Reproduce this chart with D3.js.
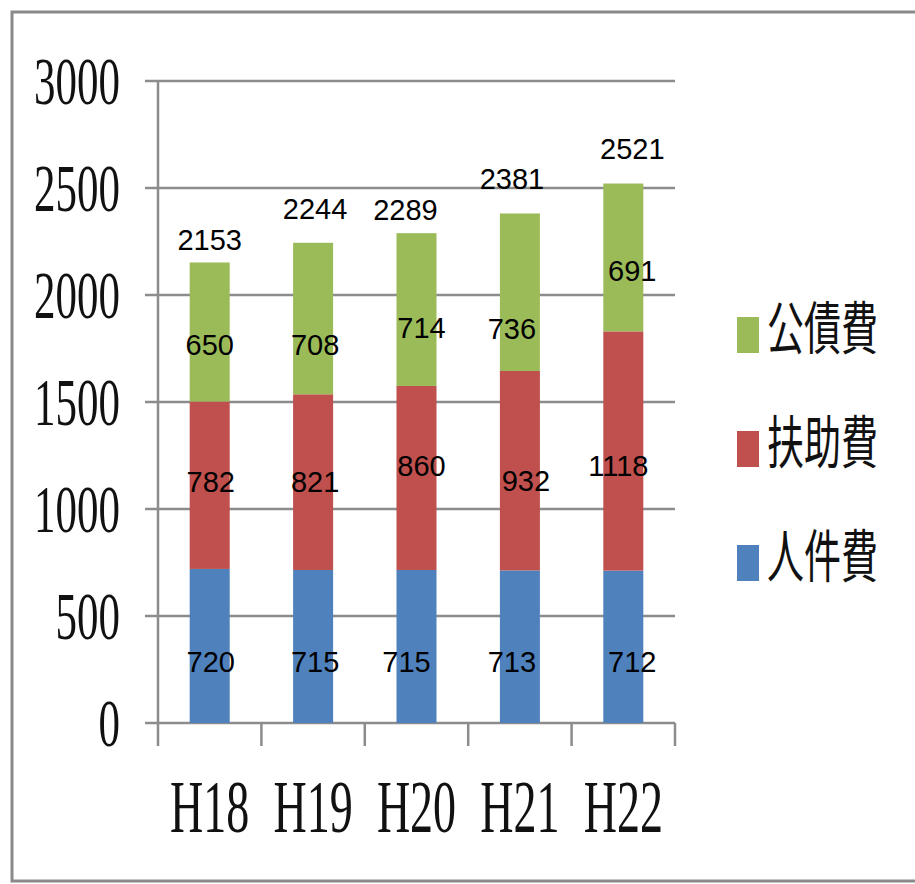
<!DOCTYPE html>
<html>
<head>
<meta charset="utf-8">
<script src="https://cdn.jsdelivr.net/npm/d3@7"></script>
<style>
  html, body { margin: 0; padding: 0; background: #fff; }
  svg { display: block; }
</style>
</head>
<body>
<svg id="chart" width="915" height="884"></svg>
<script>
// Fiscal years and expenditure series (stacked bottom to top)
const years = ["H18", "H19", "H20", "H21", "H22"];
const personnel = [720, 715, 715, 713, 712];      // 人件費
const assistance = [782, 821, 860, 932, 1118];    // 扶助費
const debtService = [650, 708, 714, 736, 691];    // 公債費
const totals = [2153, 2244, 2289, 2381, 2521];
const yTicks = [0, 500, 1000, 1500, 2000, 2500, 3000];

const seriesNames = ["人件費", "扶助費", "公債費"];
const seriesColors = ["#4f81bd", "#c0504d", "#9bbb59"];

// Hand-placed nudges for the value labels (pixels)
const totalNudge = { dx: [0, 2, -11, -8, 9], dy: [-23, -34, -24, -35, -35] };
const segNudge = [
  { dx: [1, 2, -10, -8, 9], dy: [16, 15, 15, 15, 15] },
  { dx: [1, 2, 5, 6, -5], dy: [-4, -1, -12, 10, 15] },
  { dx: [0, 2, 5, -8, 9], dy: [13, 26, 18, 36, 13] }
];

const svg = d3.select("#chart");
const plot = { left: 158, right: 675, top: 81, bottom: 723 };

const x = d3.scaleBand().domain(years)
  .range([plot.left, plot.right])
  .paddingInner(0.613).paddingOuter(0.3065);
const y = d3.scaleLinear().domain([0, 3000]).range([plot.bottom, plot.top]);

const rows = years.map((yr, i) => ({
  year: yr, "人件費": personnel[i], "扶助費": assistance[i], "公債費": debtService[i]
}));
const stacked = d3.stack().keys(seriesNames)(rows);

// Outer frame
svg.append("rect")
  .attr("x", 12).attr("y", 12).attr("width", 1000).attr("height", 869)
  .attr("fill", "none").attr("stroke", "#8a8a8a").attr("stroke-width", 3);

const gridColor = "#8c8c8c";

// Horizontal gridlines with outward tick stubs
svg.append("g").selectAll("line").data(yTicks).join("line")
  .attr("x1", plot.left - 13).attr("x2", plot.right)
  .attr("y1", d => y(d)).attr("y2", d => y(d))
  .attr("stroke", gridColor).attr("stroke-width", 2.5);

// Vertical axis line
svg.append("line")
  .attr("x1", plot.left).attr("x2", plot.left)
  .attr("y1", y(3000)).attr("y2", plot.bottom + 23)
  .attr("stroke", gridColor).attr("stroke-width", 2.5);

// Category boundary ticks below the baseline
const step = x.step();
svg.append("g").selectAll("line").data(d3.range(1, years.length + 1)).join("line")
  .attr("x1", i => plot.left + i * step).attr("x2", i => plot.left + i * step)
  .attr("y1", plot.bottom).attr("y2", plot.bottom + 23)
  .attr("stroke", gridColor).attr("stroke-width", 2.5);

// Stacked bars
svg.append("g").selectAll("g").data(stacked).join("g")
  .attr("fill", (d, i) => seriesColors[i])
  .selectAll("rect").data(d => d).join("rect")
  .attr("x", d => x(d.data.year))
  .attr("width", x.bandwidth())
  .attr("y", d => y(d[1]))
  .attr("height", d => y(d[0]) - y(d[1]));

// Y axis labels (tall serif)
const serif = "'Liberation Serif', 'DejaVu Serif', serif";
svg.append("g").selectAll("text").data(yTicks).join("text")
  .attr("transform", d => `translate(120, ${y(d) + 22.5}) scale(1, 1.55)`)
  .attr("text-anchor", "end")
  .attr("font-family", serif).attr("font-size", 43).attr("fill", "#111")
  .text(d => d);

// X axis labels
svg.append("g").selectAll("text").data(years).join("text")
  .attr("transform", d => `translate(${x(d) + x.bandwidth() / 2}, 832) scale(1, 1.6)`)
  .attr("text-anchor", "middle")
  .attr("font-family", serif).attr("font-size", 46).attr("fill", "#111")
  .text(d => d);

// Value labels
const sans = "'Liberation Sans', Arial, sans-serif";
const labels = svg.append("g")
  .attr("font-family", sans).attr("font-size", 29).attr("fill", "#000")
  .attr("text-anchor", "middle");

stacked.forEach((layer, s) => {
  labels.append("g").selectAll("text").data(layer).join("text")
    .attr("x", (d, i) => x(d.data.year) + x.bandwidth() / 2 + segNudge[s].dx[i])
    .attr("y", (d, i) => y((d[0] + d[1]) / 2) + segNudge[s].dy[i] + 10.4)
    .text(d => d[1] - d[0]);
});

labels.append("g").selectAll("text").data(totals).join("text")
  .attr("x", (d, i) => x(years[i]) + x.bandwidth() / 2 + totalNudge.dx[i])
  .attr("y", (d, i) => y(d) + totalNudge.dy[i] + 10.4)
  .text(d => d);

// Legend (top entry is the top of the stack)
const legendOrder = [2, 1, 0];
const legend = svg.append("g").selectAll("g").data(legendOrder).join("g")
  .attr("transform", (s, k) => `translate(737, ${324 + k * 114})`);
legend.append("rect")
  .attr("x", 0).attr("y", -7).attr("width", 22).attr("height", 36)
  .attr("fill", s => seriesColors[s]);
legend.append("text")
  .attr("transform", "translate(30, 0) scale(1, 1.55)")
  .attr("dominant-baseline", "central")
  .attr("font-family", "'Noto Sans CJK JP', sans-serif")
  .attr("font-size", 37).attr("fill", "#111")
  .text(s => seriesNames[s]);
</script>
</body>
</html>
